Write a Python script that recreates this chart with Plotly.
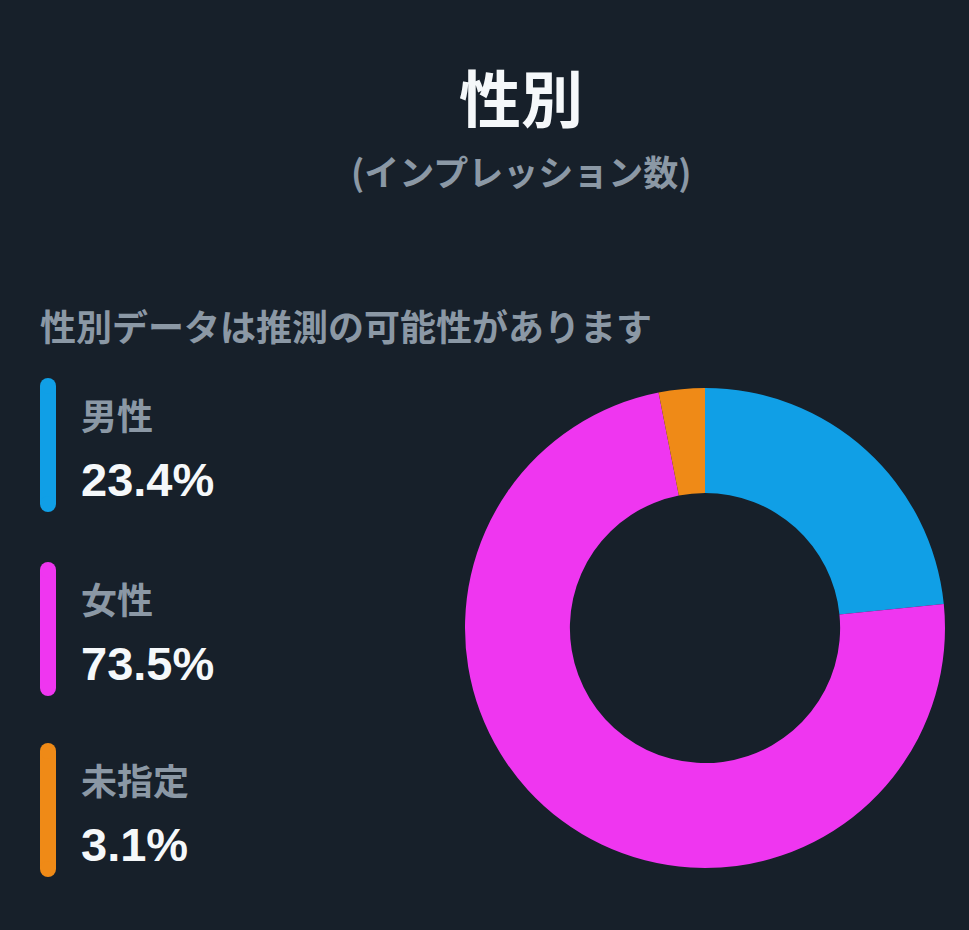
import plotly.graph_objects as go

# ---- data ----
categories = ["男性", "女性", "未指定"]
values = [23.4, 73.5, 3.1]
value_labels = ["23.4%", "73.5%", "3.1%"]
colors = ["#109FE6", "#EF36F0", "#EF8A17"]

title_text = "性別"
subtitle_text = "(インプレッション数)"
note_text = "性別データは推測の可能性があります"

W, H = 969, 930
BG = "#17202A"
GRAY = "#8B98A5"
WHITE = "#F5F8FA"
FONT = "Noto Sans CJK JP"
NUMFONT = "Liberation Sans, Arial, sans-serif"

fig = go.Figure()

# donut
fig.add_trace(go.Pie(
    labels=categories, values=values, sort=False, direction="clockwise",
    rotation=0, hole=0.563, textinfo="none",
    marker=dict(colors=colors, line=dict(width=0)),
    domain=dict(x=[465 / W, 945 / W], y=[1 - 868 / H, 1 - 388 / H]),
    showlegend=False,
))

# invisible pixel-coordinate axes for the decorative legend
fig.add_trace(go.Scatter(x=[0, W], y=[0, H], mode="markers",
                         marker=dict(opacity=0), hoverinfo="skip", showlegend=False))

shapes = []
annotations = []

annotations.append(dict(x=521, y=96, xref="x", yref="y", text=f"<b>{title_text}</b>",
                        showarrow=False, xanchor="center", yanchor="middle",
                        font=dict(family=FONT, size=62, color=WHITE)))
annotations.append(dict(x=521, y=170, xref="x", yref="y", text=f"<b>{subtitle_text}</b>",
                        showarrow=False, xanchor="center", yanchor="middle",
                        font=dict(family=FONT, size=35, color=GRAY)))
annotations.append(dict(x=38, y=325, xref="x", yref="y", text=f"<b>{note_text}</b>",
                        showarrow=False, xanchor="left", yanchor="middle",
                        font=dict(family=FONT, size=36, color=GRAY)))

bar_tops = [378, 562, 743]
bar_h = 134
bw = 16
bx = 40
for i, (cat, lab, col) in enumerate(zip(categories, value_labels, colors)):
    top = bar_tops[i]
    bot = top + bar_h
    r = bw / 2
    shapes.append(dict(type="rect", xref="x", yref="y", x0=bx, x1=bx + bw,
                       y0=top + r, y1=bot - r, fillcolor=col, line=dict(width=0), layer="above"))
    shapes.append(dict(type="circle", xref="x", yref="y", x0=bx, x1=bx + bw,
                       y0=top, y1=top + bw, fillcolor=col, line=dict(width=0), layer="above"))
    shapes.append(dict(type="circle", xref="x", yref="y", x0=bx, x1=bx + bw,
                       y0=bot - bw, y1=bot, fillcolor=col, line=dict(width=0), layer="above"))
    annotations.append(dict(x=79, y=top + 36, xref="x", yref="y", text=f"<b>{cat}</b>",
                            showarrow=False, xanchor="left", yanchor="middle",
                            font=dict(family=FONT, size=36, color=GRAY)))
    annotations.append(dict(x=79, y=top + 101, xref="x", yref="y", text=f"<b>{lab}</b>",
                            showarrow=False, xanchor="left", yanchor="middle",
                            font=dict(family=NUMFONT, size=47, color=WHITE)))

fig.update_layout(
    width=W, height=H,
    margin=dict(l=0, r=0, t=0, b=0),
    paper_bgcolor=BG, plot_bgcolor=BG,
    xaxis=dict(range=[0, W], visible=False, fixedrange=True, domain=[0, 1]),
    yaxis=dict(range=[H, 0], visible=False, fixedrange=True, domain=[0, 1]),
    shapes=shapes, annotations=annotations,
    showlegend=False,
)

fig.write_html("out.html", config={"displayModeBar": False},
               post_script="document.body.style.margin='0px';")
